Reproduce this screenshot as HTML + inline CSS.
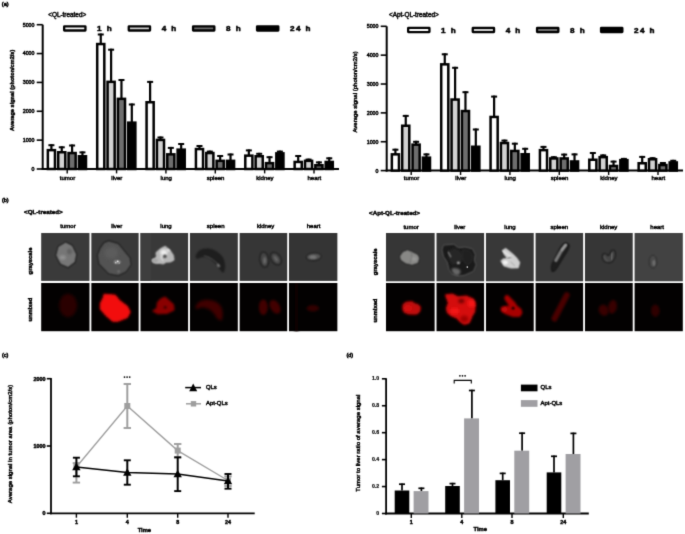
<!DOCTYPE html><html><head><meta charset="utf-8"><style>html,body{margin:0;padding:0;background:#fff;}body{width:685px;height:534px;overflow:hidden;}svg{display:block;font-family:"Liberation Sans", sans-serif;}text{stroke:#000;stroke-width:0.45px;}</style></head><body>
<svg width="685" height="534" viewBox="0 0 685 534">
<defs><filter id="b05" x="-50%" y="-50%" width="200%" height="200%" color-interpolation-filters="sRGB"><feConvolveMatrix order="3" kernelMatrix="1 2 1 2 4 2 1 2 1" divisor="16" edgeMode="none"/></filter><filter id="b07" x="-50%" y="-50%" width="200%" height="200%" color-interpolation-filters="sRGB"><feConvolveMatrix order="3" kernelMatrix="1 1 1 1 1 1 1 1 1" divisor="9" edgeMode="none"/></filter><filter id="G" x="0" y="0" width="685" height="534" filterUnits="userSpaceOnUse" color-interpolation-filters="sRGB"><feConvolveMatrix order="3" kernelMatrix="1 6 1 6 36 6 1 6 1" edgeMode="duplicate"/></filter><filter id="b1" x="-50%" y="-50%" width="200%" height="200%"><feGaussianBlur stdDeviation="1"/></filter><filter id="b15" x="-50%" y="-50%" width="200%" height="200%"><feGaussianBlur stdDeviation="1.5"/></filter><filter id="b2" x="-50%" y="-50%" width="200%" height="200%"><feGaussianBlur stdDeviation="2"/></filter></defs>
<g filter="url(#G)">
<rect width="685" height="534" fill="#fff"/>
<text x="1.80" y="6.20" font-size="5.6" text-anchor="start" font-weight="normal" fill="#000" style="stroke-width:0.55px" >(a)</text>
<text x="48.20" y="16.60" font-size="6.4" text-anchor="start" font-weight="normal" fill="#000" >&lt;QL-treated&gt;</text>
<line x1="42.70" y1="24.70" x2="42.70" y2="170.00" stroke="#000" stroke-width="2.0" />
<line x1="36.70" y1="169.00" x2="42.70" y2="169.00" stroke="#000" stroke-width="1.6" />
<text x="34.50" y="170.90" font-size="5.3" text-anchor="end" font-weight="normal" fill="#000" >0</text>
<line x1="36.70" y1="140.14" x2="42.70" y2="140.14" stroke="#000" stroke-width="1.6" />
<text x="34.50" y="142.04" font-size="5.3" text-anchor="end" font-weight="normal" fill="#000" >1000</text>
<line x1="36.70" y1="111.28" x2="42.70" y2="111.28" stroke="#000" stroke-width="1.6" />
<text x="34.50" y="113.18" font-size="5.3" text-anchor="end" font-weight="normal" fill="#000" >2000</text>
<line x1="36.70" y1="82.42" x2="42.70" y2="82.42" stroke="#000" stroke-width="1.6" />
<text x="34.50" y="84.32" font-size="5.3" text-anchor="end" font-weight="normal" fill="#000" >3000</text>
<line x1="36.70" y1="53.56" x2="42.70" y2="53.56" stroke="#000" stroke-width="1.6" />
<text x="34.50" y="55.46" font-size="5.3" text-anchor="end" font-weight="normal" fill="#000" >4000</text>
<line x1="36.70" y1="24.70" x2="42.70" y2="24.70" stroke="#000" stroke-width="1.6" />
<text x="34.50" y="26.60" font-size="5.3" text-anchor="end" font-weight="normal" fill="#000" >5000</text>
<line x1="41.70" y1="169.00" x2="339.00" y2="169.00" stroke="#000" stroke-width="2.0" />
<text x="0.00" y="0.00" font-size="5.6" text-anchor="middle" font-weight="bold" fill="#000" transform="translate(13.60,90.30) rotate(-90)">Average signal (photon/cm2/s)</text>
<line x1="67.20" y1="169.00" x2="67.20" y2="173.40" stroke="#000" stroke-width="1.4" />
<text x="67.50" y="180.00" font-size="6.0" text-anchor="middle" font-weight="normal" fill="#000" stroke="#000" stroke-width="0.2">tumor</text>
<line x1="51.40" y1="144.20" x2="51.40" y2="149.90" stroke="#000" stroke-width="2.2" />
<line x1="48.40" y1="145.20" x2="54.40" y2="145.20" stroke="#000" stroke-width="2.0" />
<rect x="47.85" y="150.15" width="7.10" height="18.85" fill="#ffffff" stroke="#000" stroke-width="2.5" />
<line x1="61.75" y1="146.30" x2="61.75" y2="152.00" stroke="#000" stroke-width="2.2" />
<line x1="58.75" y1="147.30" x2="64.75" y2="147.30" stroke="#000" stroke-width="2.0" />
<rect x="58.20" y="152.25" width="7.10" height="16.75" fill="#d2d2d2" stroke="#000" stroke-width="2.5" />
<line x1="72.10" y1="144.50" x2="72.10" y2="152.80" stroke="#000" stroke-width="2.2" />
<line x1="69.10" y1="145.50" x2="75.10" y2="145.50" stroke="#000" stroke-width="2.0" />
<rect x="68.55" y="153.05" width="7.10" height="15.95" fill="#6e6e6e" stroke="#000" stroke-width="2.5" />
<line x1="82.45" y1="151.40" x2="82.45" y2="156.00" stroke="#000" stroke-width="2.2" />
<line x1="79.45" y1="152.40" x2="85.45" y2="152.40" stroke="#000" stroke-width="2.0" />
<rect x="78.90" y="156.25" width="7.10" height="12.75" fill="#000000" stroke="#000" stroke-width="2.5" />
<line x1="116.56" y1="169.00" x2="116.56" y2="173.40" stroke="#000" stroke-width="1.4" />
<text x="116.86" y="180.00" font-size="6.0" text-anchor="middle" font-weight="normal" fill="#000" stroke="#000" stroke-width="0.2">liver</text>
<line x1="100.76" y1="33.50" x2="100.76" y2="43.80" stroke="#000" stroke-width="2.2" />
<line x1="97.76" y1="34.50" x2="103.76" y2="34.50" stroke="#000" stroke-width="2.0" />
<rect x="97.21" y="44.05" width="7.10" height="124.95" fill="#ffffff" stroke="#000" stroke-width="2.5" />
<line x1="111.11" y1="48.70" x2="111.11" y2="81.60" stroke="#000" stroke-width="2.2" />
<line x1="108.11" y1="49.70" x2="114.11" y2="49.70" stroke="#000" stroke-width="2.0" />
<rect x="107.56" y="81.85" width="7.10" height="87.15" fill="#d2d2d2" stroke="#000" stroke-width="2.5" />
<line x1="121.46" y1="79.00" x2="121.46" y2="98.60" stroke="#000" stroke-width="2.2" />
<line x1="118.46" y1="80.00" x2="124.46" y2="80.00" stroke="#000" stroke-width="2.0" />
<rect x="117.91" y="98.85" width="7.10" height="70.15" fill="#6e6e6e" stroke="#000" stroke-width="2.5" />
<line x1="131.81" y1="103.50" x2="131.81" y2="122.40" stroke="#000" stroke-width="2.2" />
<line x1="128.81" y1="104.50" x2="134.81" y2="104.50" stroke="#000" stroke-width="2.0" />
<rect x="128.26" y="122.65" width="7.10" height="46.35" fill="#000000" stroke="#000" stroke-width="2.5" />
<line x1="165.92" y1="169.00" x2="165.92" y2="173.40" stroke="#000" stroke-width="1.4" />
<text x="166.22" y="180.00" font-size="6.0" text-anchor="middle" font-weight="normal" fill="#000" stroke="#000" stroke-width="0.2">lung</text>
<line x1="150.12" y1="80.90" x2="150.12" y2="102.00" stroke="#000" stroke-width="2.2" />
<line x1="147.12" y1="81.90" x2="153.12" y2="81.90" stroke="#000" stroke-width="2.0" />
<rect x="146.57" y="102.25" width="7.10" height="66.75" fill="#ffffff" stroke="#000" stroke-width="2.5" />
<line x1="160.47" y1="136.50" x2="160.47" y2="139.70" stroke="#000" stroke-width="2.2" />
<line x1="157.47" y1="137.50" x2="163.47" y2="137.50" stroke="#000" stroke-width="2.0" />
<rect x="156.92" y="139.95" width="7.10" height="29.05" fill="#d2d2d2" stroke="#000" stroke-width="2.5" />
<line x1="170.82" y1="146.90" x2="170.82" y2="154.10" stroke="#000" stroke-width="2.2" />
<line x1="167.82" y1="147.90" x2="173.82" y2="147.90" stroke="#000" stroke-width="2.0" />
<rect x="167.27" y="154.35" width="7.10" height="14.65" fill="#6e6e6e" stroke="#000" stroke-width="2.5" />
<line x1="181.17" y1="143.00" x2="181.17" y2="149.40" stroke="#000" stroke-width="2.2" />
<line x1="178.17" y1="144.00" x2="184.17" y2="144.00" stroke="#000" stroke-width="2.0" />
<rect x="177.62" y="149.65" width="7.10" height="19.35" fill="#000000" stroke="#000" stroke-width="2.5" />
<line x1="215.28" y1="169.00" x2="215.28" y2="173.40" stroke="#000" stroke-width="1.4" />
<text x="215.58" y="180.00" font-size="6.0" text-anchor="middle" font-weight="normal" fill="#000" stroke="#000" stroke-width="0.2">spleen</text>
<line x1="199.48" y1="145.00" x2="199.48" y2="148.80" stroke="#000" stroke-width="2.2" />
<line x1="196.48" y1="146.00" x2="202.48" y2="146.00" stroke="#000" stroke-width="2.0" />
<rect x="195.93" y="149.05" width="7.10" height="19.95" fill="#ffffff" stroke="#000" stroke-width="2.5" />
<line x1="209.83" y1="150.60" x2="209.83" y2="152.80" stroke="#000" stroke-width="2.2" />
<line x1="206.83" y1="151.60" x2="212.83" y2="151.60" stroke="#000" stroke-width="2.0" />
<rect x="206.28" y="153.05" width="7.10" height="15.95" fill="#d2d2d2" stroke="#000" stroke-width="2.5" />
<line x1="220.18" y1="155.00" x2="220.18" y2="160.60" stroke="#000" stroke-width="2.2" />
<line x1="217.18" y1="156.00" x2="223.18" y2="156.00" stroke="#000" stroke-width="2.0" />
<rect x="216.63" y="160.85" width="7.10" height="8.15" fill="#6e6e6e" stroke="#000" stroke-width="2.5" />
<line x1="230.53" y1="153.50" x2="230.53" y2="160.60" stroke="#000" stroke-width="2.2" />
<line x1="227.53" y1="154.50" x2="233.53" y2="154.50" stroke="#000" stroke-width="2.0" />
<rect x="226.98" y="160.85" width="7.10" height="8.15" fill="#000000" stroke="#000" stroke-width="2.5" />
<line x1="264.64" y1="169.00" x2="264.64" y2="173.40" stroke="#000" stroke-width="1.4" />
<text x="264.94" y="180.00" font-size="6.0" text-anchor="middle" font-weight="normal" fill="#000" stroke="#000" stroke-width="0.2">kidney</text>
<line x1="248.84" y1="149.40" x2="248.84" y2="155.40" stroke="#000" stroke-width="2.2" />
<line x1="245.84" y1="150.40" x2="251.84" y2="150.40" stroke="#000" stroke-width="2.0" />
<rect x="245.29" y="155.65" width="7.10" height="13.35" fill="#ffffff" stroke="#000" stroke-width="2.5" />
<line x1="259.19" y1="152.80" x2="259.19" y2="156.00" stroke="#000" stroke-width="2.2" />
<line x1="256.19" y1="153.80" x2="262.19" y2="153.80" stroke="#000" stroke-width="2.0" />
<rect x="255.64" y="156.25" width="7.10" height="12.75" fill="#d2d2d2" stroke="#000" stroke-width="2.5" />
<line x1="269.54" y1="156.20" x2="269.54" y2="162.90" stroke="#000" stroke-width="2.2" />
<line x1="266.54" y1="157.20" x2="272.54" y2="157.20" stroke="#000" stroke-width="2.0" />
<rect x="265.99" y="163.15" width="7.10" height="5.85" fill="#6e6e6e" stroke="#000" stroke-width="2.5" />
<line x1="279.89" y1="150.60" x2="279.89" y2="153.10" stroke="#000" stroke-width="2.2" />
<line x1="276.89" y1="151.60" x2="282.89" y2="151.60" stroke="#000" stroke-width="2.0" />
<rect x="276.34" y="153.35" width="7.10" height="15.65" fill="#000000" stroke="#000" stroke-width="2.5" />
<line x1="314.00" y1="169.00" x2="314.00" y2="173.40" stroke="#000" stroke-width="1.4" />
<text x="314.30" y="180.00" font-size="6.0" text-anchor="middle" font-weight="normal" fill="#000" stroke="#000" stroke-width="0.2">heart</text>
<line x1="298.20" y1="155.00" x2="298.20" y2="161.70" stroke="#000" stroke-width="2.2" />
<line x1="295.20" y1="156.00" x2="301.20" y2="156.00" stroke="#000" stroke-width="2.0" />
<rect x="294.65" y="161.95" width="7.10" height="7.05" fill="#ffffff" stroke="#000" stroke-width="2.5" />
<line x1="308.55" y1="158.60" x2="308.55" y2="160.60" stroke="#000" stroke-width="2.2" />
<line x1="305.55" y1="159.60" x2="311.55" y2="159.60" stroke="#000" stroke-width="2.0" />
<rect x="305.00" y="160.85" width="7.10" height="8.15" fill="#d2d2d2" stroke="#000" stroke-width="2.5" />
<line x1="318.90" y1="161.40" x2="318.90" y2="165.00" stroke="#000" stroke-width="2.2" />
<line x1="315.90" y1="162.40" x2="321.90" y2="162.40" stroke="#000" stroke-width="2.0" />
<rect x="315.35" y="165.25" width="7.10" height="3.75" fill="#6e6e6e" stroke="#000" stroke-width="2.5" />
<line x1="329.25" y1="157.30" x2="329.25" y2="161.70" stroke="#000" stroke-width="2.2" />
<line x1="326.25" y1="158.30" x2="332.25" y2="158.30" stroke="#000" stroke-width="2.0" />
<rect x="325.70" y="161.95" width="7.10" height="7.05" fill="#000000" stroke="#000" stroke-width="2.5" />
<rect x="64.15" y="26.30" width="21.30" height="4.20" fill="#ffffff" stroke="#000" stroke-width="2.3" rx="0.3"/>
<text x="97.10" y="31.40" font-size="8.1" text-anchor="start" font-weight="bold" fill="#000" style="stroke-width:0.55px" letter-spacing="1.45">1 h</text>
<rect x="128.75" y="26.30" width="21.30" height="4.20" fill="#d2d2d2" stroke="#000" stroke-width="2.3" rx="0.3"/>
<text x="161.70" y="31.40" font-size="8.1" text-anchor="start" font-weight="bold" fill="#000" style="stroke-width:0.55px" letter-spacing="1.45">4 h</text>
<rect x="193.05" y="26.30" width="21.30" height="4.20" fill="#6e6e6e" stroke="#000" stroke-width="2.3" rx="0.3"/>
<text x="226.00" y="31.40" font-size="8.1" text-anchor="start" font-weight="bold" fill="#000" style="stroke-width:0.55px" letter-spacing="1.45">8 h</text>
<rect x="257.05" y="26.30" width="21.30" height="4.20" fill="#000000" stroke="#000" stroke-width="2.3" rx="0.3"/>
<text x="290.00" y="31.40" font-size="8.1" text-anchor="start" font-weight="bold" fill="#000" style="stroke-width:0.55px" letter-spacing="1.45">24 h</text>
<text x="389.00" y="16.92" font-size="6.4" text-anchor="start" font-weight="normal" fill="#000" >&lt;Apt-QL-treated&gt;</text>
<line x1="386.70" y1="26.30" x2="386.70" y2="171.60" stroke="#000" stroke-width="2.0" />
<line x1="380.70" y1="170.60" x2="386.70" y2="170.60" stroke="#000" stroke-width="1.6" />
<text x="378.50" y="172.50" font-size="5.3" text-anchor="end" font-weight="normal" fill="#000" >0</text>
<line x1="380.70" y1="141.74" x2="386.70" y2="141.74" stroke="#000" stroke-width="1.6" />
<text x="378.50" y="143.64" font-size="5.3" text-anchor="end" font-weight="normal" fill="#000" >1000</text>
<line x1="380.70" y1="112.88" x2="386.70" y2="112.88" stroke="#000" stroke-width="1.6" />
<text x="378.50" y="114.78" font-size="5.3" text-anchor="end" font-weight="normal" fill="#000" >2000</text>
<line x1="380.70" y1="84.02" x2="386.70" y2="84.02" stroke="#000" stroke-width="1.6" />
<text x="378.50" y="85.92" font-size="5.3" text-anchor="end" font-weight="normal" fill="#000" >3000</text>
<line x1="380.70" y1="55.16" x2="386.70" y2="55.16" stroke="#000" stroke-width="1.6" />
<text x="378.50" y="57.06" font-size="5.3" text-anchor="end" font-weight="normal" fill="#000" >4000</text>
<line x1="380.70" y1="26.30" x2="386.70" y2="26.30" stroke="#000" stroke-width="1.6" />
<text x="378.50" y="28.20" font-size="5.3" text-anchor="end" font-weight="normal" fill="#000" >5000</text>
<line x1="385.70" y1="170.60" x2="683.00" y2="170.60" stroke="#000" stroke-width="2.0" />
<text x="0.00" y="0.00" font-size="6.0" text-anchor="middle" font-weight="normal" fill="#000" stroke="#000" stroke-width="0.25" transform="translate(356.60,91.90) rotate(-90)">Average signal (photon/cm2/s)</text>
<line x1="411.20" y1="170.60" x2="411.20" y2="175.00" stroke="#000" stroke-width="1.4" />
<text x="411.50" y="180.32" font-size="6.0" text-anchor="middle" font-weight="normal" fill="#000" stroke="#000" stroke-width="0.2">tumor</text>
<line x1="395.40" y1="148.70" x2="395.40" y2="154.10" stroke="#000" stroke-width="2.2" />
<line x1="392.40" y1="149.70" x2="398.40" y2="149.70" stroke="#000" stroke-width="2.0" />
<rect x="391.85" y="154.35" width="7.10" height="16.25" fill="#ffffff" stroke="#000" stroke-width="2.5" />
<line x1="405.75" y1="114.90" x2="405.75" y2="125.50" stroke="#000" stroke-width="2.2" />
<line x1="402.75" y1="115.90" x2="408.75" y2="115.90" stroke="#000" stroke-width="2.0" />
<rect x="402.20" y="125.75" width="7.10" height="44.85" fill="#d2d2d2" stroke="#000" stroke-width="2.5" />
<line x1="416.10" y1="140.80" x2="416.10" y2="144.40" stroke="#000" stroke-width="2.2" />
<line x1="413.10" y1="141.80" x2="419.10" y2="141.80" stroke="#000" stroke-width="2.0" />
<rect x="412.55" y="144.65" width="7.10" height="25.95" fill="#6e6e6e" stroke="#000" stroke-width="2.5" />
<line x1="426.45" y1="153.40" x2="426.45" y2="157.40" stroke="#000" stroke-width="2.2" />
<line x1="423.45" y1="154.40" x2="429.45" y2="154.40" stroke="#000" stroke-width="2.0" />
<rect x="422.90" y="157.65" width="7.10" height="12.95" fill="#000000" stroke="#000" stroke-width="2.5" />
<line x1="460.56" y1="170.60" x2="460.56" y2="175.00" stroke="#000" stroke-width="1.4" />
<text x="460.86" y="180.32" font-size="6.0" text-anchor="middle" font-weight="normal" fill="#000" stroke="#000" stroke-width="0.2">liver</text>
<line x1="444.76" y1="53.30" x2="444.76" y2="64.10" stroke="#000" stroke-width="2.2" />
<line x1="441.76" y1="54.30" x2="447.76" y2="54.30" stroke="#000" stroke-width="2.0" />
<rect x="441.21" y="64.35" width="7.10" height="106.25" fill="#ffffff" stroke="#000" stroke-width="2.5" />
<line x1="455.11" y1="66.80" x2="455.11" y2="99.30" stroke="#000" stroke-width="2.2" />
<line x1="452.11" y1="67.80" x2="458.11" y2="67.80" stroke="#000" stroke-width="2.0" />
<rect x="451.56" y="99.55" width="7.10" height="71.05" fill="#d2d2d2" stroke="#000" stroke-width="2.5" />
<line x1="465.46" y1="91.20" x2="465.46" y2="110.80" stroke="#000" stroke-width="2.2" />
<line x1="462.46" y1="92.20" x2="468.46" y2="92.20" stroke="#000" stroke-width="2.0" />
<rect x="461.91" y="111.05" width="7.10" height="59.55" fill="#6e6e6e" stroke="#000" stroke-width="2.5" />
<line x1="475.81" y1="128.50" x2="475.81" y2="146.50" stroke="#000" stroke-width="2.2" />
<line x1="472.81" y1="129.50" x2="478.81" y2="129.50" stroke="#000" stroke-width="2.0" />
<rect x="472.26" y="146.75" width="7.10" height="23.85" fill="#000000" stroke="#000" stroke-width="2.5" />
<line x1="509.92" y1="170.60" x2="509.92" y2="175.00" stroke="#000" stroke-width="1.4" />
<text x="510.22" y="180.32" font-size="6.0" text-anchor="middle" font-weight="normal" fill="#000" stroke="#000" stroke-width="0.2">lung</text>
<line x1="494.12" y1="95.60" x2="494.12" y2="116.70" stroke="#000" stroke-width="2.2" />
<line x1="491.12" y1="96.60" x2="497.12" y2="96.60" stroke="#000" stroke-width="2.0" />
<rect x="490.57" y="116.95" width="7.10" height="53.65" fill="#ffffff" stroke="#000" stroke-width="2.5" />
<line x1="504.47" y1="139.60" x2="504.47" y2="142.80" stroke="#000" stroke-width="2.2" />
<line x1="501.47" y1="140.60" x2="507.47" y2="140.60" stroke="#000" stroke-width="2.0" />
<rect x="500.92" y="143.05" width="7.10" height="27.55" fill="#d2d2d2" stroke="#000" stroke-width="2.5" />
<line x1="514.82" y1="142.70" x2="514.82" y2="150.70" stroke="#000" stroke-width="2.2" />
<line x1="511.82" y1="143.70" x2="517.82" y2="143.70" stroke="#000" stroke-width="2.0" />
<rect x="511.27" y="150.95" width="7.10" height="19.65" fill="#6e6e6e" stroke="#000" stroke-width="2.5" />
<line x1="525.17" y1="147.80" x2="525.17" y2="154.00" stroke="#000" stroke-width="2.2" />
<line x1="522.17" y1="148.80" x2="528.17" y2="148.80" stroke="#000" stroke-width="2.0" />
<rect x="521.62" y="154.25" width="7.10" height="16.35" fill="#000000" stroke="#000" stroke-width="2.5" />
<line x1="559.28" y1="170.60" x2="559.28" y2="175.00" stroke="#000" stroke-width="1.4" />
<text x="559.58" y="180.32" font-size="6.0" text-anchor="middle" font-weight="normal" fill="#000" stroke="#000" stroke-width="0.2">spleen</text>
<line x1="543.48" y1="145.90" x2="543.48" y2="149.90" stroke="#000" stroke-width="2.2" />
<line x1="540.48" y1="146.90" x2="546.48" y2="146.90" stroke="#000" stroke-width="2.0" />
<rect x="539.93" y="150.15" width="7.10" height="20.45" fill="#ffffff" stroke="#000" stroke-width="2.5" />
<line x1="553.83" y1="156.20" x2="553.83" y2="158.20" stroke="#000" stroke-width="2.2" />
<line x1="550.83" y1="157.20" x2="556.83" y2="157.20" stroke="#000" stroke-width="2.0" />
<rect x="550.28" y="158.45" width="7.10" height="12.15" fill="#d2d2d2" stroke="#000" stroke-width="2.5" />
<line x1="564.18" y1="153.60" x2="564.18" y2="158.20" stroke="#000" stroke-width="2.2" />
<line x1="561.18" y1="154.60" x2="567.18" y2="154.60" stroke="#000" stroke-width="2.0" />
<rect x="560.63" y="158.45" width="7.10" height="12.15" fill="#6e6e6e" stroke="#000" stroke-width="2.5" />
<line x1="574.53" y1="153.40" x2="574.53" y2="161.20" stroke="#000" stroke-width="2.2" />
<line x1="571.53" y1="154.40" x2="577.53" y2="154.40" stroke="#000" stroke-width="2.0" />
<rect x="570.98" y="161.45" width="7.10" height="9.15" fill="#000000" stroke="#000" stroke-width="2.5" />
<line x1="608.64" y1="170.60" x2="608.64" y2="175.00" stroke="#000" stroke-width="1.4" />
<text x="608.94" y="180.32" font-size="6.0" text-anchor="middle" font-weight="normal" fill="#000" stroke="#000" stroke-width="0.2">kidney</text>
<line x1="592.84" y1="152.00" x2="592.84" y2="159.50" stroke="#000" stroke-width="2.2" />
<line x1="589.84" y1="153.00" x2="595.84" y2="153.00" stroke="#000" stroke-width="2.0" />
<rect x="589.29" y="159.75" width="7.10" height="10.85" fill="#ffffff" stroke="#000" stroke-width="2.5" />
<line x1="603.19" y1="154.40" x2="603.19" y2="156.90" stroke="#000" stroke-width="2.2" />
<line x1="600.19" y1="155.40" x2="606.19" y2="155.40" stroke="#000" stroke-width="2.0" />
<rect x="599.64" y="157.15" width="7.10" height="13.45" fill="#d2d2d2" stroke="#000" stroke-width="2.5" />
<line x1="613.54" y1="160.60" x2="613.54" y2="165.70" stroke="#000" stroke-width="2.2" />
<line x1="610.54" y1="161.60" x2="616.54" y2="161.60" stroke="#000" stroke-width="2.0" />
<rect x="609.99" y="165.95" width="7.10" height="4.65" fill="#6e6e6e" stroke="#000" stroke-width="2.5" />
<line x1="623.89" y1="157.90" x2="623.89" y2="159.90" stroke="#000" stroke-width="2.2" />
<line x1="620.89" y1="158.90" x2="626.89" y2="158.90" stroke="#000" stroke-width="2.0" />
<rect x="620.34" y="160.15" width="7.10" height="10.45" fill="#000000" stroke="#000" stroke-width="2.5" />
<line x1="658.00" y1="170.60" x2="658.00" y2="175.00" stroke="#000" stroke-width="1.4" />
<text x="658.30" y="180.32" font-size="6.0" text-anchor="middle" font-weight="normal" fill="#000" stroke="#000" stroke-width="0.2">heart</text>
<line x1="642.20" y1="155.90" x2="642.20" y2="163.00" stroke="#000" stroke-width="2.2" />
<line x1="639.20" y1="156.90" x2="645.20" y2="156.90" stroke="#000" stroke-width="2.0" />
<rect x="638.65" y="163.25" width="7.10" height="7.35" fill="#ffffff" stroke="#000" stroke-width="2.5" />
<line x1="652.55" y1="157.20" x2="652.55" y2="159.00" stroke="#000" stroke-width="2.2" />
<line x1="649.55" y1="158.20" x2="655.55" y2="158.20" stroke="#000" stroke-width="2.0" />
<rect x="649.00" y="159.25" width="7.10" height="11.35" fill="#d2d2d2" stroke="#000" stroke-width="2.5" />
<line x1="662.90" y1="162.00" x2="662.90" y2="164.80" stroke="#000" stroke-width="2.2" />
<line x1="659.90" y1="163.00" x2="665.90" y2="163.00" stroke="#000" stroke-width="2.0" />
<rect x="659.35" y="165.05" width="7.10" height="5.55" fill="#6e6e6e" stroke="#000" stroke-width="2.5" />
<line x1="673.25" y1="159.80" x2="673.25" y2="162.20" stroke="#000" stroke-width="2.2" />
<line x1="670.25" y1="160.80" x2="676.25" y2="160.80" stroke="#000" stroke-width="2.0" />
<rect x="669.70" y="162.45" width="7.10" height="8.15" fill="#000000" stroke="#000" stroke-width="2.5" />
<rect x="408.15" y="27.90" width="21.30" height="4.20" fill="#ffffff" stroke="#000" stroke-width="2.3" rx="0.3"/>
<text x="441.10" y="33.00" font-size="8.1" text-anchor="start" font-weight="bold" fill="#000" style="stroke-width:0.55px" letter-spacing="1.45">1 h</text>
<rect x="472.75" y="27.90" width="21.30" height="4.20" fill="#d2d2d2" stroke="#000" stroke-width="2.3" rx="0.3"/>
<text x="505.70" y="33.00" font-size="8.1" text-anchor="start" font-weight="bold" fill="#000" style="stroke-width:0.55px" letter-spacing="1.45">4 h</text>
<rect x="537.05" y="27.90" width="21.30" height="4.20" fill="#6e6e6e" stroke="#000" stroke-width="2.3" rx="0.3"/>
<text x="570.00" y="33.00" font-size="8.1" text-anchor="start" font-weight="bold" fill="#000" style="stroke-width:0.55px" letter-spacing="1.45">8 h</text>
<rect x="601.05" y="27.90" width="21.30" height="4.20" fill="#000000" stroke="#000" stroke-width="2.3" rx="0.3"/>
<text x="634.00" y="33.00" font-size="8.1" text-anchor="start" font-weight="bold" fill="#000" style="stroke-width:0.55px" letter-spacing="1.45">24 h</text>
<text x="1.90" y="202.30" font-size="5.6" text-anchor="start" font-weight="normal" fill="#000" style="stroke-width:0.55px" >(b)</text>
<text x="24.10" y="214.10" font-size="6.2" text-anchor="start" font-weight="bold" fill="#000" >&lt;QL-treated&gt;</text>
<text x="68.00" y="228.30" font-size="6.0" text-anchor="middle" font-weight="normal" fill="#000" style="stroke-width:0.45px" >tumor</text>
<clipPath id="c00a"><rect x="41.10" y="233.00" width="48.60" height="47.90"/></clipPath>
<g clip-path="url(#c00a)">
<rect x="41.10" y="233.00" width="48.60" height="47.90" fill="#3a3a3a" stroke="none" stroke-width="0" />
<g transform="translate(41.10,233.00)"><path d="M24.6 8.9 L31.2 12.4 L35.6 21.3 L34.2 29.3 L27 34.8 L19.1 31.3 L14.6 22.3 L17 13.4Z" fill="#242424" stroke="#242424" stroke-width="1.2" stroke-linejoin="round" filter="url(#b05)"/><path d="M24.6 9.9 L30.6 13.1 L34.6 21.4 L33.2 28.8 L27 33.6 L19.7 30.4 L15.6 22.3 L17.8 14Z" fill="#767676" stroke="#767676" stroke-width="0.8" stroke-linejoin="round" filter="url(#b05)"/><ellipse cx="21.5" cy="24.5" rx="3.2" ry="2.2" fill="#929292" filter="url(#b1)"/><ellipse cx="28.5" cy="18.5" rx="2.5" ry="3" fill="#606060" filter="url(#b1)"/></g>
</g>
<clipPath id="c00b"><rect x="41.10" y="282.90" width="48.60" height="48.50"/></clipPath>
<g clip-path="url(#c00b)">
<rect x="41.10" y="282.90" width="48.60" height="48.50" fill="#030101" stroke="none" stroke-width="0" />
<g transform="translate(41.10,282.90)"><ellipse cx="27" cy="22.5" rx="8.8" ry="11.5" fill="#2c0000" filter="url(#b15)"/></g>
</g>
<text x="116.70" y="228.30" font-size="6.0" text-anchor="middle" font-weight="normal" fill="#000" style="stroke-width:0.45px" >liver</text>
<clipPath id="c01a"><rect x="91.20" y="233.00" width="47.60" height="47.90"/></clipPath>
<g clip-path="url(#c01a)">
<rect x="91.20" y="233.00" width="47.60" height="47.90" fill="#393939" stroke="none" stroke-width="0" />
<g transform="translate(91.20,233.00)"><path d="M17.6 7.6 L27.3 10.4 L38.9 24.7 L39.8 31.9 L35 38.8 L27 42.8 L17.3 40.8 L7.6 31 L6.2 22.3 L8.6 15.3 L12.6 9.5Z" fill="#202020" stroke="#202020" stroke-width="1" stroke-linejoin="round" filter="url(#b05)"/><path d="M17.6 8.4 L27 11.2 L38.3 25 L39.2 31.8 L34.6 38.3 L27 42.1 L17.6 40.2 L8.3 30.7 L6.9 22.3 L9.3 15.7 L13.1 10.2Z" fill="#535353" stroke="#535353" stroke-width="0.4" stroke-linejoin="miter" filter="url(#b05)"/><ellipse cx="20" cy="20" rx="7" ry="6" fill="#5c5c5c" filter="url(#b15)"/><ellipse cx="26" cy="29" rx="3.5" ry="2" fill="#8a8a8a" filter="url(#b05)"/><circle cx="26.5" cy="28.3" r="0.9" fill="#e0e0e0"/><circle cx="24.6" cy="29.8" r="0.7" fill="#d0d0d0"/><circle cx="28" cy="30" r="0.6" fill="#c8c8c8"/><circle cx="27.5" cy="38.5" r="1.4" fill="#6a6a6a" filter="url(#b05)"/></g>
</g>
<clipPath id="c01b"><rect x="91.20" y="282.90" width="47.60" height="48.50"/></clipPath>
<g clip-path="url(#c01b)">
<rect x="91.20" y="282.90" width="47.60" height="48.50" fill="#030101" stroke="none" stroke-width="0" />
<g transform="translate(91.20,282.90)"><path d="M12.8 11.3 L24.1 12.2 L28.8 17.8 L36.3 23.4 L39.1 29.1 L36.3 34.7 L26.9 38.4 L21.3 38.4 L14.7 32.8 L9.1 26.3 L9.1 20.6 L11.9 15Z" fill="#f20a0a" stroke="#f20a0a" stroke-width="1" stroke-linejoin="round" filter="url(#b1)"/></g>
</g>
<text x="166.00" y="228.30" font-size="6.0" text-anchor="middle" font-weight="normal" fill="#000" style="stroke-width:0.45px" >lung</text>
<clipPath id="c02a"><rect x="140.30" y="233.00" width="48.00" height="47.90"/></clipPath>
<g clip-path="url(#c02a)">
<rect x="140.30" y="233.00" width="48.00" height="47.90" fill="#393939" stroke="none" stroke-width="0" />
<g transform="translate(140.30,233.00)"><rect x="0" y="0" width="10.9" height="50" fill="#3e3e3e"/><path d="M22 14.5 L25 13.2 L29.6 16.8 L33.3 22.4 L33.8 27.1 L30.5 29 L26 29.3 L23 31 L19.3 30.4 L16 30.6 L12.7 29.5 L11.8 26.6 L14.5 25.2 L16 23.8 L15.6 19.6 L19.3 16.3Z" fill="#b8b8b8" stroke="#b8b8b8" stroke-width="0.8" stroke-linejoin="round" filter="url(#b05)"/><ellipse cx="23.5" cy="19.5" rx="3.5" ry="3" fill="#eeeeee" filter="url(#b1)"/><ellipse cx="27.5" cy="17.5" rx="2" ry="1.6" fill="#d8d8d8" filter="url(#b05)"/><ellipse cx="14.5" cy="27.5" rx="3" ry="2" fill="#a6a6a6" filter="url(#b05)"/><circle cx="24.6" cy="23.4" r="1.8" fill="#505050" filter="url(#b05)"/><path d="M21 22 Q20 26 23 28" stroke="#e8e8e8" stroke-width="1" fill="none" filter="url(#b05)"/></g>
</g>
<clipPath id="c02b"><rect x="140.30" y="282.90" width="48.00" height="48.50"/></clipPath>
<g clip-path="url(#c02b)">
<rect x="140.30" y="282.90" width="48.00" height="48.50" fill="#030101" stroke="none" stroke-width="0" />
<g transform="translate(140.30,282.90)"><path d="M24.9 14.1 L33.3 21.6 L33.8 27.2 L26.8 30.5 L17.4 30.9 L12.3 28.1 L16.5 25.3 L17 19.7 L20.2 16Z" fill="#8a0000" stroke="#8a0000" stroke-width="1" stroke-linejoin="round" filter="url(#b1)"/><circle cx="24.9" cy="24.4" r="1.6" fill="#4a0000" filter="url(#b07)"/></g>
</g>
<text x="215.70" y="228.30" font-size="6.0" text-anchor="middle" font-weight="normal" fill="#000" style="stroke-width:0.45px" >spleen</text>
<clipPath id="c03a"><rect x="189.80" y="233.00" width="48.10" height="47.90"/></clipPath>
<g clip-path="url(#c03a)">
<rect x="189.80" y="233.00" width="48.10" height="47.90" fill="#373737" stroke="none" stroke-width="0" />
<g transform="translate(189.80,233.00)"><path d="M5.8 22.4 Q8.5 15 17.9 15.2 Q27 16 33 24 Q37 31 34.5 39 Q32.5 40.5 30.5 37.5 Q26 30 20 25.5 Q14 22.5 8 26 Q5.3 26 5.8 22.4Z" fill="#1e1e1e" stroke="#303030" stroke-width="0.8" filter="url(#b05)"/><path d="M14 22.8 Q23 24.5 30.5 34" stroke="#4a4a4a" stroke-width="1.1" fill="none" filter="url(#b05)"/><ellipse cx="28.5" cy="32.5" rx="1.2" ry="2" fill="#7a7a7a" transform="rotate(-30 28.5 32.5)" filter="url(#b05)"/></g>
</g>
<clipPath id="c03b"><rect x="189.80" y="282.90" width="48.10" height="48.50"/></clipPath>
<g clip-path="url(#c03b)">
<rect x="189.80" y="282.90" width="48.10" height="48.50" fill="#030101" stroke="none" stroke-width="0" />
<g transform="translate(189.80,282.90)"><path d="M5.8 23.4 Q9 16.5 17.9 16.9 Q27.3 17.5 31.5 24 Q34 30 32 37.5 Q30 37.5 27.3 35.6 Q24 30 20.7 27.2 Q16 24.5 12.3 24.4 Q9 24.7 7.6 26.3 Q5.3 26 5.8 23.4Z" fill="#400000" filter="url(#b15)"/></g>
</g>
<text x="265.60" y="228.30" font-size="6.0" text-anchor="middle" font-weight="normal" fill="#000" style="stroke-width:0.45px" >kidney</text>
<clipPath id="c04a"><rect x="239.40" y="233.00" width="48.05" height="47.90"/></clipPath>
<g clip-path="url(#c04a)">
<rect x="239.40" y="233.00" width="48.05" height="47.90" fill="#363636" stroke="none" stroke-width="0" />
<g transform="translate(239.40,233.00)"><ellipse cx="24.8" cy="26.6" rx="4.4" ry="7.8" fill="#454545" stroke="#1e1e1e" stroke-width="1.3" transform="rotate(-8 24.8 26.6)" filter="url(#b05)"/><ellipse cx="25.3" cy="27.5" rx="1.5" ry="3.5" fill="#6a6a6a" filter="url(#b07)"/><ellipse cx="36.5" cy="25.7" rx="4.6" ry="7" fill="#454545" stroke="#1e1e1e" stroke-width="1.3" transform="rotate(-35 36.5 25.7)" filter="url(#b05)"/><ellipse cx="36.5" cy="25.7" rx="1.3" ry="3.5" fill="#6a6a6a" transform="rotate(-35 36.5 25.7)" filter="url(#b07)"/></g>
</g>
<clipPath id="c04b"><rect x="239.40" y="282.90" width="48.05" height="48.50"/></clipPath>
<g clip-path="url(#c04b)">
<rect x="239.40" y="282.90" width="48.05" height="48.50" fill="#030101" stroke="none" stroke-width="0" />
<g transform="translate(239.40,282.90)"><ellipse cx="23.9" cy="24.4" rx="4.4" ry="7.8" fill="#420000" filter="url(#b1)"/><ellipse cx="35.6" cy="23.9" rx="4.6" ry="7.5" fill="#420000" transform="rotate(-30 35.6 23.9)" filter="url(#b1)"/></g>
</g>
<text x="313.60" y="228.30" font-size="6.0" text-anchor="middle" font-weight="normal" fill="#000" style="stroke-width:0.45px" >heart</text>
<clipPath id="c05a"><rect x="288.95" y="233.00" width="48.65" height="47.90"/></clipPath>
<g clip-path="url(#c05a)">
<rect x="288.95" y="233.00" width="48.65" height="47.90" fill="#343434" stroke="none" stroke-width="0" />
<g transform="translate(288.95,233.00)"><ellipse cx="24.8" cy="23.8" rx="7.5" ry="3.8" fill="#555" stroke="#1e1e1e" stroke-width="1.1" transform="rotate(-5 24.8 23.8)" filter="url(#b05)"/><ellipse cx="24" cy="24" rx="3.5" ry="1.5" fill="#7a7a7a" filter="url(#b07)"/></g>
</g>
<clipPath id="c05b"><rect x="288.95" y="282.90" width="48.65" height="48.50"/></clipPath>
<g clip-path="url(#c05b)">
<rect x="288.95" y="282.90" width="48.65" height="48.50" fill="#030101" stroke="none" stroke-width="0" />
<g transform="translate(288.95,282.90)"><rect x="5.5" y="0" width="4" height="50" fill="#0a0000" filter="url(#b1)"/><ellipse cx="23.9" cy="25.3" rx="6.2" ry="3.2" fill="#330000" filter="url(#b1)"/></g>
</g>
<text x="0.00" y="0.00" font-size="5.8" text-anchor="middle" font-weight="bold" fill="#000" transform="translate(32.00,261.00) rotate(-90)">grayscale</text>
<text x="0.00" y="0.00" font-size="5.8" text-anchor="middle" font-weight="bold" fill="#000" transform="translate(32.00,309.70) rotate(-90)">unmixed</text>
<text x="369.10" y="214.90" font-size="6.2" text-anchor="start" font-weight="bold" fill="#000" >&lt;Apt-QL-treated&gt;</text>
<text x="411.10" y="229.10" font-size="6.0" text-anchor="middle" font-weight="normal" fill="#000" style="stroke-width:0.45px" >tumor</text>
<clipPath id="c10a"><rect x="385.90" y="232.90" width="48.90" height="48.70"/></clipPath>
<g clip-path="url(#c10a)">
<rect x="385.90" y="232.90" width="48.90" height="48.70" fill="#363636" stroke="none" stroke-width="0" />
<g transform="translate(385.90,232.90)"><path d="M21.6 17.4 L25.3 18.8 L28.1 20.2 L31.9 22 L33.3 25.3 L31.9 30 L26.3 31.9 L19.7 30.5 L15 27.2 L14.1 23.4 L16.9 19.2Z" fill="#262626" stroke="#262626" stroke-width="1.6" stroke-linejoin="round" filter="url(#b05)"/><path d="M21.6 17.6 L25.3 19 L28.1 20.4 L31.7 22.2 L33 25.3 L31.7 29.8 L26.3 31.6 L19.8 30.2 L15.3 27 L14.4 23.4 L17.1 19.4Z" fill="#888886" stroke="#888886" stroke-width="0.6" stroke-linejoin="round" filter="url(#b05)"/><path d="M25.5 19 L26 24 L24 30" stroke="#707070" stroke-width="0.8" fill="none" filter="url(#b05)"/><ellipse cx="28.5" cy="26" rx="2.5" ry="2" fill="#9a9a98" filter="url(#b1)"/></g>
</g>
<clipPath id="c10b"><rect x="385.90" y="282.90" width="48.90" height="48.50"/></clipPath>
<g clip-path="url(#c10b)">
<rect x="385.90" y="282.90" width="48.90" height="48.50" fill="#030101" stroke="none" stroke-width="0" />
<g transform="translate(385.90,282.90)"><path d="M16.5 22 Q19 17.8 24 18.3 Q27 17.5 28.5 20 Q33 20.5 35 24 Q35.5 30 30 31.8 Q23 32.5 18.5 30 Q15.5 27 16.5 22Z" fill="#c00808" filter="url(#b1)"/><ellipse cx="22.5" cy="25.3" rx="4" ry="3" fill="#d41010" filter="url(#b1)"/></g>
</g>
<text x="459.80" y="229.10" font-size="6.0" text-anchor="middle" font-weight="normal" fill="#000" style="stroke-width:0.45px" >liver</text>
<clipPath id="c11a"><rect x="436.30" y="232.90" width="48.02" height="48.70"/></clipPath>
<g clip-path="url(#c11a)">
<rect x="436.30" y="232.90" width="48.02" height="48.70" fill="#363636" stroke="none" stroke-width="0" />
<g transform="translate(436.30,232.90)"><path d="M7.1 12.2 L17.4 11.3 L22.1 15 L28.7 14.1 L36.2 16 L39 21.6 L38 27.2 L39.9 31.9 L37.1 38.4 L28.7 42.2 L23 43.1 L15.6 41.2 L12.7 36.6 L10.9 29.1 L7.1 23.4 L5.7 16.9Z" fill="#1a1a1a" stroke="#555" stroke-width="1" stroke-linejoin="round" filter="url(#b05)"/><path d="M12 18 Q18 14 22 17 Q28 21 26 28 Q22 33 16 31 Q11 27 12 18Z" fill="#262626" filter="url(#b1)"/><path d="M26 17 Q33 16 36 22 Q37 30 31 32 Q27 30 26 24Z" fill="#202020" stroke="#333" stroke-width="0.6" filter="url(#b05)"/><path d="M15 36 Q19 34 24 37 Q25 41 21 42.5 Q16 41.5 15 36Z" fill="#666" filter="url(#b1)"/><path d="M11.8 18.8 L14.6 24.4" stroke="#8a8a8a" stroke-width="1.2" filter="url(#b05)"/><ellipse cx="22.1" cy="30" rx="1.6" ry="1.4" fill="#9a9a9a" filter="url(#b05)"/><circle cx="31" cy="34.2" r="0.8" fill="#f0f0f0"/></g>
</g>
<clipPath id="c11b"><rect x="436.30" y="282.90" width="48.02" height="48.50"/></clipPath>
<g clip-path="url(#c11b)">
<rect x="436.30" y="282.90" width="48.02" height="48.50" fill="#030101" stroke="none" stroke-width="0" />
<g transform="translate(436.30,282.90)"><path d="M9 12 L16 11 L22 14 L30 13 L37 16 L39 22 L38.5 29 L36 33 L33 40 L28 41.5 L24 39 L20 35 L15 33 L11 30 L10 25 L12 20Z" fill="#d40a0a" stroke="#d40a0a" stroke-width="1" stroke-linejoin="round" filter="url(#b1)"/><ellipse cx="35.2" cy="20.6" rx="3.8" ry="3.5" fill="#f81414" filter="url(#b15)"/><ellipse cx="18.4" cy="28.1" rx="4.5" ry="3.2" fill="#f41212" filter="url(#b15)"/><ellipse cx="25" cy="18" rx="3" ry="2.2" fill="#6a0000" filter="url(#b15)"/><ellipse cx="28" cy="36" rx="4" ry="3.5" fill="#a00606" filter="url(#b15)"/></g>
</g>
<text x="510.00" y="229.10" font-size="6.0" text-anchor="middle" font-weight="normal" fill="#000" style="stroke-width:0.45px" >lung</text>
<clipPath id="c12a"><rect x="485.82" y="232.90" width="48.03" height="48.70"/></clipPath>
<g clip-path="url(#c12a)">
<rect x="485.82" y="232.90" width="48.03" height="48.70" fill="#383838" stroke="none" stroke-width="0" />
<g transform="translate(485.82,232.90)"><path d="M17.4 16.8 L20 15.5 L27 21 L31 25 L34 29.5 L32.5 35 L25 35.2 L18 33 L15 28 L17 26 L21.5 25.5 L18 21Z" fill="#cfcfcf" stroke="#cfcfcf" stroke-width="0.8" stroke-linejoin="round" filter="url(#b05)"/><path d="M17 18 L25 24" stroke="#e6e6e6" stroke-width="1.6" stroke-linecap="round" filter="url(#b05)"/><ellipse cx="19.5" cy="29.5" rx="2.5" ry="2" fill="#f2f2f2" filter="url(#b05)"/><path d="M21.5 25.5 L25.5 24.5" stroke="#777" stroke-width="1" filter="url(#b05)"/><path d="M25 29 L29 33" stroke="#9a9a9a" stroke-width="0.8" filter="url(#b05)"/></g>
</g>
<clipPath id="c12b"><rect x="485.82" y="282.90" width="48.03" height="48.50"/></clipPath>
<g clip-path="url(#c12b)">
<rect x="485.82" y="282.90" width="48.03" height="48.50" fill="#030101" stroke="none" stroke-width="0" />
<g transform="translate(485.82,282.90)"><path d="M19.5 13 L22 12.5 L28.5 19 L31 23 L35 26 L36.2 30 L34 33.5 L27 33.5 L20 31 L15.5 28 L15.5 24.5 L20 23.5 L24 23.5 L19 16Z" fill="#a80404" stroke="#a80404" stroke-width="1" stroke-linejoin="round" filter="url(#b1)"/><ellipse cx="19" cy="26.5" rx="3" ry="2.5" fill="#c00808" filter="url(#b1)"/><circle cx="27.3" cy="25.3" r="1.6" fill="#300000" filter="url(#b05)"/></g>
</g>
<text x="559.30" y="229.10" font-size="6.0" text-anchor="middle" font-weight="normal" fill="#000" style="stroke-width:0.45px" >spleen</text>
<clipPath id="c13a"><rect x="535.35" y="232.90" width="48.00" height="48.70"/></clipPath>
<g clip-path="url(#c13a)">
<rect x="535.35" y="232.90" width="48.00" height="48.70" fill="#393939" stroke="none" stroke-width="0" />
<g transform="translate(535.35,232.90)"><path d="M29 10 Q34 9.5 34 13.5 Q33 18 28.5 24 L21.5 35.5 Q19 40 16.5 38.5 Q15 35 16.8 30.5 L23.5 17 Q26 11.5 29 10Z" fill="#1e1e1e" stroke="#151515" stroke-width="0.8" filter="url(#b05)"/><path d="M30 12.5 L25 19.5 L20.5 27.5" stroke="#7a7a7a" stroke-width="3.2" stroke-linecap="round" filter="url(#b05)"/><path d="M30.5 12 L26.5 17" stroke="#9a9a9a" stroke-width="2" stroke-linecap="round" filter="url(#b05)"/></g>
</g>
<clipPath id="c13b"><rect x="535.35" y="282.90" width="48.00" height="48.50"/></clipPath>
<g clip-path="url(#c13b)">
<rect x="535.35" y="282.90" width="48.00" height="48.50" fill="#030101" stroke="none" stroke-width="0" />
<g transform="translate(535.35,282.90)"><path d="M31.4 12.2 L19.2 35.6" stroke="#480000" stroke-width="6" stroke-linecap="round" filter="url(#b1)"/></g>
</g>
<text x="608.70" y="229.10" font-size="6.0" text-anchor="middle" font-weight="normal" fill="#000" style="stroke-width:0.45px" >kidney</text>
<clipPath id="c14a"><rect x="584.85" y="232.90" width="48.00" height="48.70"/></clipPath>
<g clip-path="url(#c14a)">
<rect x="584.85" y="232.90" width="48.00" height="48.70" fill="#363636" stroke="none" stroke-width="0" />
<g transform="translate(584.85,232.90)"><path d="M18 21.5 Q20 19.5 22.5 22 Q24 24 25.5 20 Q27 16 29.5 17.5 Q31.5 20 30 25 Q28 29.5 24.5 30 Q19.5 30 18 26.5 Q17 23.5 18 21.5Z" fill="#444" stroke="#1a1a1a" stroke-width="1.1" filter="url(#b05)"/><path d="M27 20 L26.5 27" stroke="#888" stroke-width="0.8" filter="url(#b05)"/><path d="M19 23 Q20 27 23 28" stroke="#666" stroke-width="0.7" fill="none" filter="url(#b05)"/></g>
</g>
<clipPath id="c14b"><rect x="584.85" y="282.90" width="48.00" height="48.50"/></clipPath>
<g clip-path="url(#c14b)">
<rect x="584.85" y="282.90" width="48.00" height="48.50" fill="#030101" stroke="none" stroke-width="0" />
<g transform="translate(584.85,282.90)"><ellipse cx="18.8" cy="27.2" rx="4.8" ry="5.8" fill="#380000" transform="rotate(-25 18.8 27.2)" filter="url(#b1)"/><ellipse cx="27.7" cy="23.9" rx="4.3" ry="7" fill="#380000" transform="rotate(10 27.7 23.9)" filter="url(#b1)"/></g>
</g>
<text x="657.20" y="229.10" font-size="6.0" text-anchor="middle" font-weight="normal" fill="#000" style="stroke-width:0.45px" >heart</text>
<clipPath id="c15a"><rect x="634.35" y="232.90" width="48.55" height="48.70"/></clipPath>
<g clip-path="url(#c15a)">
<rect x="634.35" y="232.90" width="48.55" height="48.70" fill="#424242" stroke="none" stroke-width="0" />
<g transform="translate(634.35,232.90)"><ellipse cx="18.6" cy="28.8" rx="3.8" ry="6.5" fill="#4a4a4a" stroke="#2a2a2a" stroke-width="0.9" filter="url(#b05)"/><ellipse cx="19.5" cy="30" rx="1.5" ry="3" fill="#6e6e6e" filter="url(#b05)"/></g>
</g>
<clipPath id="c15b"><rect x="634.35" y="282.90" width="48.55" height="48.50"/></clipPath>
<g clip-path="url(#c15b)">
<rect x="634.35" y="282.90" width="48.55" height="48.50" fill="#030101" stroke="none" stroke-width="0" />
<g transform="translate(634.35,282.90)"><ellipse cx="21" cy="27.8" rx="4.3" ry="6.2" fill="#2e0000" filter="url(#b1)"/></g>
</g>
<text x="0.00" y="0.00" font-size="5.8" text-anchor="middle" font-weight="bold" fill="#000" transform="translate(377.00,261.80) rotate(-90)">grayscale</text>
<text x="0.00" y="0.00" font-size="5.8" text-anchor="middle" font-weight="bold" fill="#000" transform="translate(377.00,310.50) rotate(-90)">unmixed</text>
<text x="1.90" y="357.00" font-size="5.6" text-anchor="start" font-weight="normal" fill="#000" style="stroke-width:0.55px" >(c)</text>
<line x1="51.00" y1="378.00" x2="51.00" y2="514.30" stroke="#000" stroke-width="1.8" />
<line x1="46.80" y1="513.30" x2="51.00" y2="513.30" stroke="#000" stroke-width="1.6" />
<text x="45.40" y="515.20" font-size="5.4" text-anchor="end" font-weight="bold" fill="#000" >0</text>
<line x1="46.80" y1="446.00" x2="51.00" y2="446.00" stroke="#000" stroke-width="1.6" />
<text x="45.40" y="447.90" font-size="5.4" text-anchor="end" font-weight="bold" fill="#000" >1000</text>
<line x1="46.80" y1="378.70" x2="51.00" y2="378.70" stroke="#000" stroke-width="1.6" />
<text x="45.40" y="380.60" font-size="5.4" text-anchor="end" font-weight="bold" fill="#000" >2000</text>
<line x1="50.00" y1="513.30" x2="254.70" y2="513.30" stroke="#000" stroke-width="1.8" />
<line x1="76.40" y1="513.30" x2="76.40" y2="517.70" stroke="#000" stroke-width="1.4" />
<text x="76.40" y="523.90" font-size="5.4" text-anchor="middle" font-weight="bold" fill="#000" >1</text>
<line x1="127.30" y1="513.30" x2="127.30" y2="517.70" stroke="#000" stroke-width="1.4" />
<text x="127.30" y="523.90" font-size="5.4" text-anchor="middle" font-weight="bold" fill="#000" >4</text>
<line x1="177.70" y1="513.30" x2="177.70" y2="517.70" stroke="#000" stroke-width="1.4" />
<text x="177.70" y="523.90" font-size="5.4" text-anchor="middle" font-weight="bold" fill="#000" >8</text>
<line x1="228.00" y1="513.30" x2="228.00" y2="517.70" stroke="#000" stroke-width="1.4" />
<text x="228.00" y="523.90" font-size="5.4" text-anchor="middle" font-weight="bold" fill="#000" >24</text>
<text x="144.40" y="531.50" font-size="5.8" text-anchor="middle" font-weight="bold" fill="#000" >Time</text>
<text x="0.00" y="0.00" font-size="6.0" text-anchor="middle" font-weight="normal" fill="#000" stroke="#000" stroke-width="0.25" transform="translate(12.0,444.0) rotate(-90)">Average signal in tumor area (photon/cm2/s)</text>
<polyline points="76.4,467.0 127.3,406.0 177.7,450.6 228.0,480.5" fill="none" stroke="#9e9e9e" stroke-width="1.3"/>
<line x1="76.40" y1="462.70" x2="76.40" y2="482.60" stroke="#9e9e9e" stroke-width="2.0" />
<line x1="72.70" y1="463.10" x2="80.10" y2="463.10" stroke="#9e9e9e" stroke-width="1.9" />
<line x1="72.70" y1="482.60" x2="80.10" y2="482.60" stroke="#9e9e9e" stroke-width="1.9" />
<line x1="127.30" y1="383.60" x2="127.30" y2="428.00" stroke="#9e9e9e" stroke-width="2.0" />
<line x1="123.60" y1="384.00" x2="131.00" y2="384.00" stroke="#9e9e9e" stroke-width="1.9" />
<line x1="123.60" y1="428.00" x2="131.00" y2="428.00" stroke="#9e9e9e" stroke-width="1.9" />
<line x1="177.70" y1="443.60" x2="177.70" y2="457.50" stroke="#9e9e9e" stroke-width="2.0" />
<line x1="174.00" y1="444.00" x2="181.40" y2="444.00" stroke="#9e9e9e" stroke-width="1.9" />
<line x1="174.00" y1="457.50" x2="181.40" y2="457.50" stroke="#9e9e9e" stroke-width="1.9" />
<line x1="228.00" y1="476.00" x2="228.00" y2="486.00" stroke="#9e9e9e" stroke-width="2.0" />
<line x1="224.30" y1="476.40" x2="231.70" y2="476.40" stroke="#9e9e9e" stroke-width="1.9" />
<line x1="224.30" y1="486.00" x2="231.70" y2="486.00" stroke="#9e9e9e" stroke-width="1.9" />
<rect x="73.40" y="464.00" width="6.00" height="6.00" fill="#9e9e9e" stroke="none" stroke-width="0" />
<rect x="124.30" y="403.00" width="6.00" height="6.00" fill="#9e9e9e" stroke="none" stroke-width="0" />
<rect x="174.70" y="447.60" width="6.00" height="6.00" fill="#9e9e9e" stroke="none" stroke-width="0" />
<rect x="225.00" y="477.50" width="6.00" height="6.00" fill="#9e9e9e" stroke="none" stroke-width="0" />
<polyline points="76.4,467.0 127.3,472.5 177.7,474.0 228.0,481.0" fill="none" stroke="#000" stroke-width="1.3"/>
<line x1="76.40" y1="457.40" x2="76.40" y2="476.60" stroke="#000" stroke-width="2.0" />
<line x1="72.90" y1="457.70" x2="79.90" y2="457.70" stroke="#000" stroke-width="1.9" />
<line x1="72.90" y1="476.30" x2="79.90" y2="476.30" stroke="#000" stroke-width="1.9" />
<line x1="127.30" y1="460.00" x2="127.30" y2="485.00" stroke="#000" stroke-width="2.0" />
<line x1="123.80" y1="460.30" x2="130.80" y2="460.30" stroke="#000" stroke-width="1.9" />
<line x1="123.80" y1="484.70" x2="130.80" y2="484.70" stroke="#000" stroke-width="1.9" />
<line x1="177.70" y1="457.00" x2="177.70" y2="491.40" stroke="#000" stroke-width="2.0" />
<line x1="174.20" y1="457.30" x2="181.20" y2="457.30" stroke="#000" stroke-width="1.9" />
<line x1="174.20" y1="491.10" x2="181.20" y2="491.10" stroke="#000" stroke-width="1.9" />
<line x1="228.00" y1="473.70" x2="228.00" y2="489.00" stroke="#000" stroke-width="2.0" />
<line x1="224.50" y1="474.00" x2="231.50" y2="474.00" stroke="#000" stroke-width="1.9" />
<line x1="224.50" y1="488.70" x2="231.50" y2="488.70" stroke="#000" stroke-width="1.9" />
<path d="M72.20 470.30 L76.40 462.70 L80.60 470.30Z" fill="#000"/>
<path d="M123.10 475.80 L127.30 468.20 L131.50 475.80Z" fill="#000"/>
<path d="M173.50 477.30 L177.70 469.70 L181.90 477.30Z" fill="#000"/>
<path d="M223.80 484.30 L228.00 476.70 L232.20 484.30Z" fill="#000"/>
<circle cx="124.50" cy="377.10" r="0.85" fill="#000"/>
<circle cx="127.10" cy="377.10" r="0.85" fill="#000"/>
<circle cx="129.70" cy="377.10" r="0.85" fill="#000"/>
<line x1="185.20" y1="387.60" x2="201.00" y2="387.60" stroke="#000" stroke-width="1.5" />
<path d="M189.2 391.3 L193.2 383.4 L197.2 391.3Z" fill="#000"/>
<text x="206.00" y="389.30" font-size="5.9" text-anchor="start" font-weight="normal" fill="#000" >QLs</text>
<line x1="186.00" y1="403.80" x2="201.00" y2="403.80" stroke="#9e9e9e" stroke-width="1.5" />
<rect x="190.80" y="401.10" width="5.40" height="5.40" fill="#9e9e9e" stroke="none" stroke-width="0" />
<text x="206.00" y="405.00" font-size="5.9" text-anchor="start" font-weight="normal" fill="#000" >Apt-QLs</text>
<text x="346.40" y="356.90" font-size="5.6" text-anchor="start" font-weight="normal" fill="#000" style="stroke-width:0.55px" >(d)</text>
<line x1="386.10" y1="378.20" x2="386.10" y2="514.50" stroke="#000" stroke-width="1.8" />
<line x1="381.90" y1="513.50" x2="386.10" y2="513.50" stroke="#000" stroke-width="1.6" />
<text x="379.10" y="514.90" font-size="5.2" text-anchor="end" font-weight="bold" fill="#000" style="stroke-width:0.2px" >0</text>
<line x1="381.90" y1="486.56" x2="386.10" y2="486.56" stroke="#000" stroke-width="1.6" />
<text x="379.10" y="487.96" font-size="5.2" text-anchor="end" font-weight="bold" fill="#000" style="stroke-width:0.2px" >0.2</text>
<line x1="381.90" y1="459.62" x2="386.10" y2="459.62" stroke="#000" stroke-width="1.6" />
<text x="379.10" y="461.02" font-size="5.2" text-anchor="end" font-weight="bold" fill="#000" style="stroke-width:0.2px" >0.4</text>
<line x1="381.90" y1="432.68" x2="386.10" y2="432.68" stroke="#000" stroke-width="1.6" />
<text x="379.10" y="434.08" font-size="5.2" text-anchor="end" font-weight="bold" fill="#000" style="stroke-width:0.2px" >0.6</text>
<line x1="381.90" y1="405.74" x2="386.10" y2="405.74" stroke="#000" stroke-width="1.6" />
<text x="379.10" y="407.14" font-size="5.2" text-anchor="end" font-weight="bold" fill="#000" style="stroke-width:0.2px" >0.8</text>
<line x1="381.90" y1="378.80" x2="386.10" y2="378.80" stroke="#000" stroke-width="1.6" />
<text x="379.10" y="380.20" font-size="5.2" text-anchor="end" font-weight="bold" fill="#000" style="stroke-width:0.2px" >1.0</text>
<line x1="385.10" y1="513.50" x2="588.80" y2="513.50" stroke="#000" stroke-width="1.8" />
<line x1="411.30" y1="513.50" x2="411.30" y2="517.90" stroke="#000" stroke-width="1.4" />
<text x="411.30" y="523.90" font-size="5.4" text-anchor="middle" font-weight="bold" fill="#000" >1</text>
<line x1="461.80" y1="513.50" x2="461.80" y2="517.90" stroke="#000" stroke-width="1.4" />
<text x="461.80" y="523.90" font-size="5.4" text-anchor="middle" font-weight="bold" fill="#000" >4</text>
<line x1="512.00" y1="513.50" x2="512.00" y2="517.90" stroke="#000" stroke-width="1.4" />
<text x="512.00" y="523.90" font-size="5.4" text-anchor="middle" font-weight="bold" fill="#000" >8</text>
<line x1="563.30" y1="513.50" x2="563.30" y2="517.90" stroke="#000" stroke-width="1.4" />
<text x="563.30" y="523.90" font-size="5.4" text-anchor="middle" font-weight="bold" fill="#000" >24</text>
<text x="480.30" y="531.40" font-size="5.8" text-anchor="middle" font-weight="bold" fill="#000" >Time</text>
<text x="0.00" y="0.00" font-size="6.0" text-anchor="middle" font-weight="normal" fill="#000" stroke="#000" stroke-width="0.25" transform="translate(359.6,443.2) rotate(-90)">Tumor to liver ratio of average signal</text>
<line x1="402.00" y1="483.40" x2="402.00" y2="490.50" stroke="#000" stroke-width="1.7" />
<line x1="399.00" y1="484.20" x2="405.00" y2="484.20" stroke="#000" stroke-width="1.7" />
<rect x="394.70" y="490.50" width="14.60" height="23.00" fill="#000" stroke="none" stroke-width="0" />
<line x1="421.40" y1="487.50" x2="421.40" y2="491.10" stroke="#000" stroke-width="1.7" />
<line x1="418.40" y1="488.30" x2="424.40" y2="488.30" stroke="#000" stroke-width="1.7" />
<rect x="413.60" y="491.10" width="14.90" height="22.40" fill="#a09fa3" stroke="none" stroke-width="0" />
<line x1="452.50" y1="482.80" x2="452.50" y2="486.00" stroke="#000" stroke-width="1.7" />
<line x1="449.50" y1="483.60" x2="455.50" y2="483.60" stroke="#000" stroke-width="1.7" />
<rect x="445.20" y="486.00" width="14.60" height="27.50" fill="#000" stroke="none" stroke-width="0" />
<line x1="471.90" y1="389.70" x2="471.90" y2="418.40" stroke="#000" stroke-width="1.7" />
<line x1="468.90" y1="390.50" x2="474.90" y2="390.50" stroke="#000" stroke-width="1.7" />
<rect x="464.10" y="418.40" width="14.90" height="95.10" fill="#a09fa3" stroke="none" stroke-width="0" />
<line x1="502.70" y1="472.60" x2="502.70" y2="480.20" stroke="#000" stroke-width="1.7" />
<line x1="499.70" y1="473.40" x2="505.70" y2="473.40" stroke="#000" stroke-width="1.7" />
<rect x="495.40" y="480.20" width="14.60" height="33.30" fill="#000" stroke="none" stroke-width="0" />
<line x1="522.10" y1="432.40" x2="522.10" y2="450.70" stroke="#000" stroke-width="1.7" />
<line x1="519.10" y1="433.20" x2="525.10" y2="433.20" stroke="#000" stroke-width="1.7" />
<rect x="514.30" y="450.70" width="14.90" height="62.80" fill="#a09fa3" stroke="none" stroke-width="0" />
<line x1="554.00" y1="455.50" x2="554.00" y2="472.40" stroke="#000" stroke-width="1.7" />
<line x1="551.00" y1="456.30" x2="557.00" y2="456.30" stroke="#000" stroke-width="1.7" />
<rect x="546.70" y="472.40" width="14.60" height="41.10" fill="#000" stroke="none" stroke-width="0" />
<line x1="573.40" y1="432.60" x2="573.40" y2="454.00" stroke="#000" stroke-width="1.7" />
<line x1="570.40" y1="433.40" x2="576.40" y2="433.40" stroke="#000" stroke-width="1.7" />
<rect x="565.60" y="454.00" width="14.90" height="59.50" fill="#a09fa3" stroke="none" stroke-width="0" />
<path d="M454.2 383.6 L454.2 380.4 L471.3 380.4 L471.3 383.6" fill="none" stroke="#000" stroke-width="1.1"/>
<circle cx="459.90" cy="375.80" r="0.85" fill="#000"/>
<circle cx="462.50" cy="375.80" r="0.85" fill="#000"/>
<circle cx="465.10" cy="375.80" r="0.85" fill="#000"/>
<rect x="520.90" y="384.60" width="16.60" height="6.70" fill="#000" stroke="none" stroke-width="0" />
<text x="540.60" y="388.60" font-size="5.9" text-anchor="start" font-weight="normal" fill="#000" >QLs</text>
<rect x="520.90" y="400.10" width="16.60" height="6.70" fill="#a09fa3" stroke="none" stroke-width="0" />
<text x="540.60" y="404.70" font-size="5.9" text-anchor="start" font-weight="normal" fill="#000" >Apt-QLs</text>
</g>
</svg></body></html>
